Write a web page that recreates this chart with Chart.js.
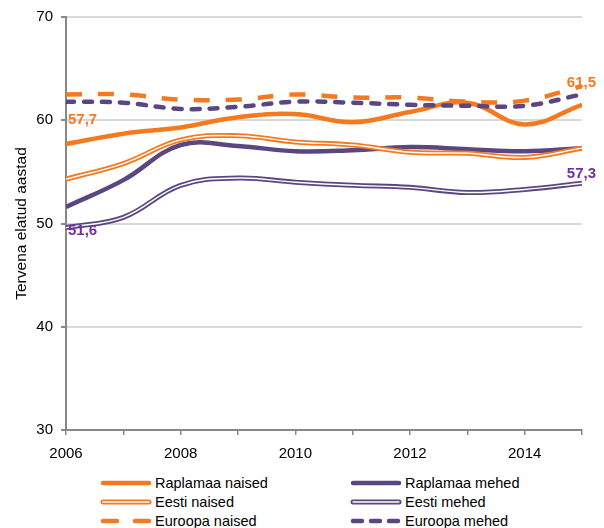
<!DOCTYPE html>
<html>
<head>
<meta charset="utf-8">
<script src="https://cdn.jsdelivr.net/npm/chart.js@4.4.1/dist/chart.umd.min.js"></script>
<style>
  html, body { margin: 0; padding: 0; background: #fff; }
  #wrap { position: relative; width: 604px; height: 528px; font-family: "Liberation Sans", Arial, sans-serif; }
  #chart { position: absolute; left: 0; top: 0; }
  .leg { position: absolute; font-size: 14.5px; color: #000; line-height: 18px; white-space: nowrap; }
  .leg canvas { position: absolute; left: 0; top: 4px; }
  .leg span { position: absolute; left: 55px; top: 0; }
</style>
</head>
<body>
<div id="wrap">
  <canvas id="chart" width="604" height="460"></canvas>
  <div id="legend"></div>
</div>
<script>
const years = [2006, 2007, 2008, 2009, 2010, 2011, 2012, 2013, 2014, 2015];

const raplamaaNaised = [57.7, 58.7, 59.3, 60.3, 60.6, 59.8, 60.8, 61.7, 59.6, 61.5];
const raplamaaMehed  = [51.6, 54.2, 57.6, 57.5, 57.0, 57.1, 57.4, 57.2, 57.0, 57.3];
const eestiNaised    = [54.3, 55.8, 58.1, 58.5, 57.9, 57.6, 56.9, 56.8, 56.4, 57.3];
const eestiMehed     = [49.6, 50.6, 53.7, 54.4, 54.0, 53.7, 53.5, 53.0, 53.3, 53.9];
const euroopaNaised  = [62.5, 62.5, 62.0, 62.0, 62.5, 62.2, 62.2, 61.8, 61.9, 63.3];
const euroopaMehed   = [61.8, 61.7, 61.1, 61.3, 61.8, 61.7, 61.5, 61.4, 61.4, 62.5];

const ORANGE = '#f57a1f';
const PURPLE = '#5a4680';
const LABEL_PURPLE = '#7030a0';

const series = [
  { label: 'Raplamaa naised', values: raplamaaNaised, color: ORANGE, style: 'solid' },
  { label: 'Raplamaa mehed',  values: raplamaaMehed,  color: PURPLE, style: 'solid' },
  { label: 'Eesti naised',    values: eestiNaised,    color: ORANGE, style: 'double' },
  { label: 'Eesti mehed',     values: eestiMehed,     color: PURPLE, style: 'double' },
  { label: 'Euroopa naised',  values: euroopaNaised,  color: ORANGE, style: 'longdash' },
  { label: 'Euroopa mehed',   values: euroopaMehed,   color: PURPLE, style: 'shortdash' },
];

// first / last value labels of the Raplamaa series
const endLabels = [
  { values: raplamaaNaised, index: 0, dx: 2, dy: -24, color: ORANGE, align: 'left' },
  { values: raplamaaMehed,  index: 0, dx: 2, dy: 24,  color: LABEL_PURPLE, align: 'left' },
  { values: raplamaaNaised, index: 9, dx: 14, dy: -22, color: ORANGE, align: 'right' },
  { values: raplamaaMehed,  index: 9, dx: 14, dy: 26,  color: LABEL_PURPLE, align: 'right' },
];

function points(values) {
  return years.map((y, i) => ({ x: y, y: values[i] }));
}

function lineStyle(s) {
  const base = { borderColor: s.color, borderWidth: 4.5, borderDash: [], borderCapStyle: 'butt' };
  if (s.style === 'double') base.borderWidth = 5;
  if (s.style === 'longdash') base.borderDash = [16, 16];
  if (s.style === 'shortdash') { base.borderDash = [8, 10]; base.borderCapStyle = 'round'; }
  return base;
}

// later series sit on top, white core drawn right above its double line
const datasets = [];
series.forEach(s => {
  datasets.push(Object.assign({ label: s.label, data: points(s.values) }, lineStyle(s)));
  if (s.style === 'double') {
    datasets.push({ label: s.label + ' core', data: points(s.values), borderColor: '#fff', borderWidth: 1.4 });
  }
});
datasets.forEach((d, i) => {
  d.order = datasets.length - i;
  d.pointRadius = 0;
  d.tension = 0.4;
  d.fill = false;
});

const valueLabels = {
  id: 'valueLabels',
  afterDatasetsDraw(chart) {
    const { ctx, scales: { x, y } } = chart;
    ctx.save();
    ctx.font = 'bold 15px "Liberation Sans", Arial, sans-serif';
    ctx.textBaseline = 'middle';
    endLabels.forEach(l => {
      const v = l.values[l.index];
      const px = x.getPixelForValue(years[l.index]) + l.dx;
      const py = y.getPixelForValue(v) + l.dy;
      ctx.fillStyle = l.color;
      ctx.textAlign = l.align;
      ctx.fillText(v.toFixed(1).replace('.', ','), px, py);
    });
    ctx.restore();
  }
};

const tickFont = { family: '"Liberation Sans", Arial, sans-serif', size: 15 };

new Chart(document.getElementById('chart'), {
  type: 'line',
  data: { datasets },
  plugins: [valueLabels],
  options: {
    responsive: false,
    animation: false,
    layout: { padding: { top: 17, right: 22, left: 0, bottom: 0 } },
    plugins: { legend: { display: false }, tooltip: { enabled: false } },
    scales: {
      x: {
        type: 'linear',
        min: 2006,
        max: 2015,
        ticks: {
          stepSize: 1,
          autoSkip: false,
          maxRotation: 0,
          color: '#000',
          font: tickFont,
          padding: 10,
          callback: v => (v % 2 === 0 ? String(v) : '')
        },
        grid: { drawOnChartArea: false, tickLength: 5, tickColor: '#888', lineWidth: 1.5 },
        border: { color: '#888', width: 2 },
        afterFit: s => { s.height = 30; }
      },
      y: {
        min: 30,
        max: 70,
        ticks: { stepSize: 10, color: '#000', font: tickFont, padding: 8 },
        grid: { color: '#d9d9d9', lineWidth: 2, tickLength: 5, tickColor: '#888' },
        border: { color: '#888', width: 2 },
        title: {
          display: true,
          text: 'Tervena elatud aastad',
          color: '#000',
          font: { family: '"Liberation Sans", Arial, sans-serif', size: 15.5 },
          padding: { top: 12, bottom: 0 }
        },
        afterFit: s => { s.width = 66; }
      }
    }
  }
});

// legend: two columns, three rows
const legendEl = document.getElementById('legend');
series.forEach((s, i) => {
  const col = i % 2, row = Math.floor(i / 2);
  const item = document.createElement('div');
  item.className = 'leg';
  item.style.left = (col === 0 ? 100 : 350) + 'px';
  item.style.top = (474 + row * 19) + 'px';
  const sw = document.createElement('canvas');
  sw.width = 52; sw.height = 10;
  const c = sw.getContext('2d');
  const st = lineStyle(s);
  c.strokeStyle = st.borderColor;
  c.lineWidth = st.borderWidth;
  c.lineCap = 'round';
  c.setLineDash(s.style === 'longdash' ? [14, 18] : s.style === 'shortdash' ? [9, 9] : []);
  c.beginPath(); c.moveTo(3, 5); c.lineTo(49, 5); c.stroke();
  if (s.style === 'double') {
    c.strokeStyle = '#fff'; c.lineWidth = 1.4;
    c.beginPath(); c.moveTo(3, 5); c.lineTo(49, 5); c.stroke();
  }
  const txt = document.createElement('span');
  txt.textContent = s.label;
  item.appendChild(sw);
  item.appendChild(txt);
  legendEl.appendChild(item);
});
</script>
</body>
</html>
